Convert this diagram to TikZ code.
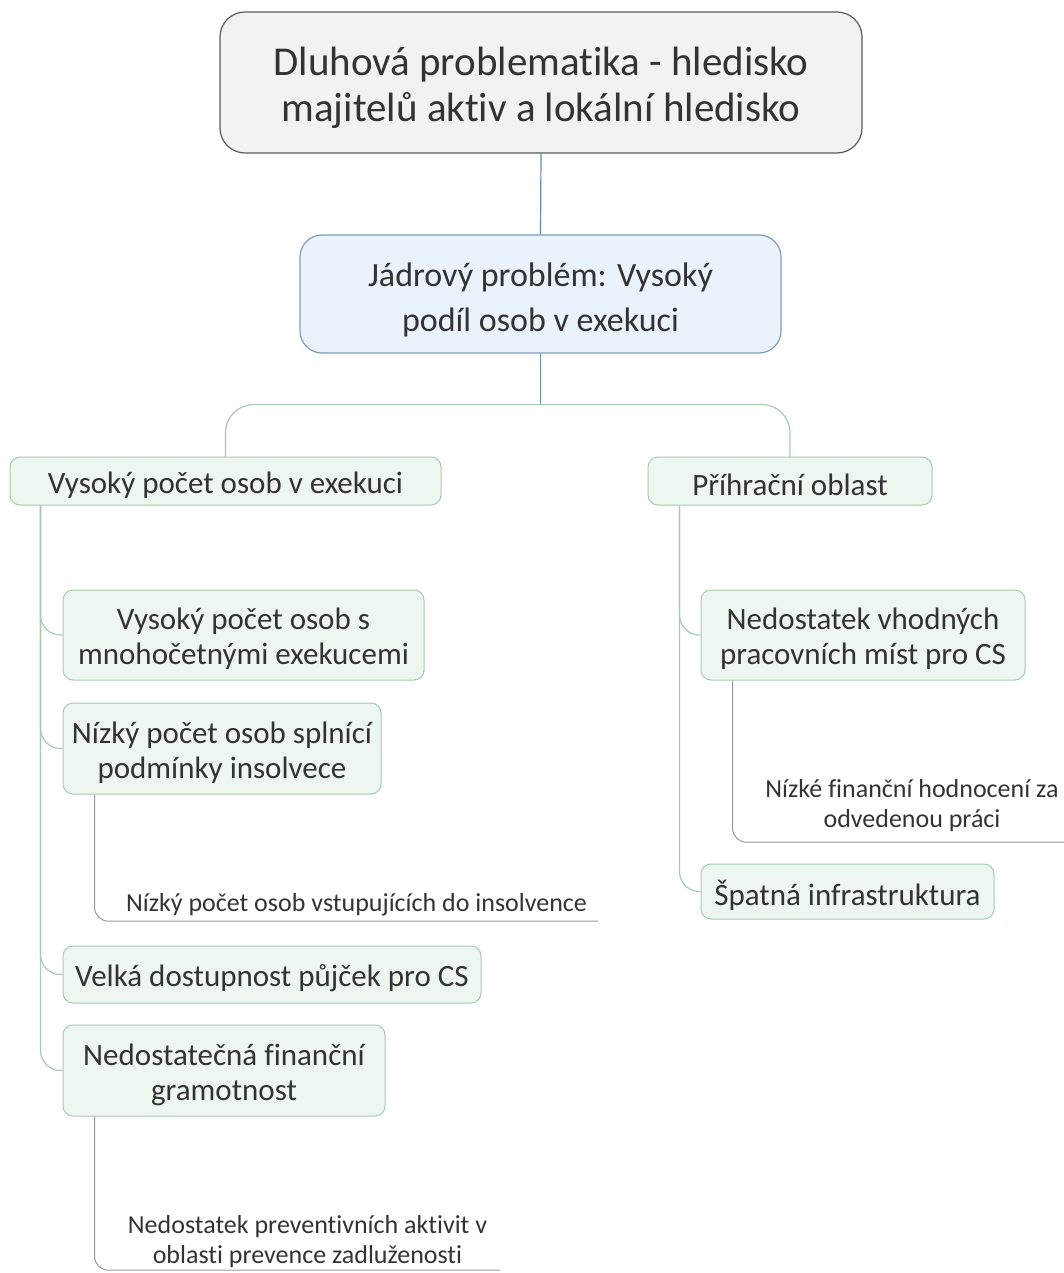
\documentclass[tikz,border=0pt]{standalone}
\usepackage{fontspec}
\setmainfont{Carlito}[Ligatures=CommonOff]
\definecolor{rootfill}{HTML}{F2F2F2}
\definecolor{rootdraw}{HTML}{5A5A5A}
\definecolor{corefill}{HTML}{EAF2FB}
\definecolor{coredraw}{HTML}{7F9CBB}
\definecolor{gfill}{HTML}{EEF6F0}
\definecolor{gdraw}{HTML}{A6CBB1}
\definecolor{bcol}{HTML}{6A89A8}
\definecolor{scol}{HTML}{9A9A9A}
\definecolor{tcol}{HTML}{333333}
\begin{document}
\begin{tikzpicture}[x=1pt,y=-1pt,
  txt/.style={text=tcol, align=center, inner sep=0pt},
  rt/.style={txt, font=\fontsize{41}{46}\selectfont, yshift=-5pt},
  ct/.style={txt, font=\fontsize{34}{45}\selectfont, yshift=-6pt},
  gt/.style={txt, font=\fontsize{31}{35}\selectfont, yshift=-4pt},
  rootbox/.style={draw=rootdraw, fill=rootfill, line width=1.2pt, rounded corners=25pt, inner sep=0pt},
  corebox/.style={draw=coredraw, fill=corefill, line width=1.2pt, rounded corners=22pt, inner sep=0pt},
  gbox/.style={draw=gdraw, fill=gfill, line width=1pt, rounded corners=10pt, inner sep=0pt},
  subtxt/.style={txt, font=\fontsize{26}{30}\selectfont},
  bline/.style={draw=bcol, line width=1.2pt},
  gline/.style={draw=gdraw, line width=1.2pt},
  sline/.style={draw=scol, line width=1pt},
]
\useasboundingbox (0,0) rectangle (1064,1273);

% main boxes
\node[rootbox, minimum width=642pt, minimum height=141pt,
  label={[rt]center:{Dluhová problematika - hledisko\\majitelů aktiv a lokální hledisko}}] (root) at (541,82.5) {};
\node[corebox, minimum width=481pt, minimum height=118pt,
  label={[ct]center:{Jádrový problém: Vysoký\\podíl osob v exekuci}}] (core) at (540.5,294) {};

% level 1
\node[gbox, minimum width=431pt, minimum height=48pt,
  label={[gt]center:{Vysoký počet osob v exekuci}}] (L1) at (225.5,481) {};
\node[gbox, minimum width=284pt, minimum height=48pt,
  label={[gt]center:{Příhrační oblast}}] (R1) at (790,481) {};

% left children
\node[gbox, minimum width=361pt, minimum height=90pt,
  label={[gt]center:{Vysoký počet osob s\\mnohočetnými exekucemi}}] (c1) at (243.5,635) {};
\node[gbox, minimum width=318pt, minimum height=91pt,
  label={[gt]center:{Nízký počet osob splnící\\podmínky insolvece}}] (c2) at (222,748.5) {};
\node[gbox, minimum width=418pt, minimum height=57pt,
  label={[gt]center:{Velká dostupnost půjček pro CS}}] (c3) at (272,974.5) {};
\node[gbox, minimum width=322pt, minimum height=91pt,
  label={[gt]center:{Nedostatečná finanční\\gramotnost}}] (c4) at (224,1070.5) {};

% right children
\node[gbox, minimum width=324pt, minimum height=90pt,
  label={[gt]center:{Nedostatek vhodných\\pracovních míst pro CS}}] (r1) at (863,635) {};
\node[gbox, minimum width=293pt, minimum height=55pt,
  label={[gt]center:{Špatná infrastruktura}}] (r2) at (847.5,891.5) {};

% sub texts
\node[subtxt, minimum width=483pt, minimum height=32pt] (s1) at (356.5,905) {Nízký počet osob vstupujících do insolvence};
\node[subtxt, minimum width=385pt, minimum height=56pt] (s2) at (307.5,1242) {Nedostatek preventivních aktivit v\\oblasti prevence zadluženosti};
\node[subtxt, minimum width=304pt, minimum height=72pt] (s3) at (912,806) {Nízké finanční hodnocení za\\odvedenou práci};

% connectors
\draw[bline] (root.south) -- (core.north);
\draw[bline] (core.south) -- ++(0,51) coordinate (bj);
\draw[gline, rounded corners=28pt] (L1.north) -- (L1.north |- bj) -- (R1.north |- bj) -- (R1.north);

\coordinate (lv) at ([xshift=31pt]L1.south west);
\coordinate (rv) at ([xshift=32pt]R1.south west);
\foreach \c in {c1,c2,c3,c4}{
  \draw[gline, rounded corners=20pt] (lv) -- (lv |- \c.west) -- (\c.west);
}
\foreach \c in {r1,r2}{
  \draw[gline, rounded corners=20pt] (rv) -- (rv |- \c.west) -- (\c.west);
}

\coordinate (c2v) at ([xshift=32pt]c2.south west);
\coordinate (c4v) at ([xshift=32pt]c4.south west);
\coordinate (r1v) at ([xshift=32pt]r1.south west);
\draw[sline, rounded corners=14pt] (c2v) -- (c2v |- s1.south) -- (s1.south east);
\draw[sline, rounded corners=14pt] (c4v) -- (c4v |- s2.south) -- (s2.south east);
\draw[sline, rounded corners=14pt] (r1v) -- (r1v |- s3.south) -- (s3.south east);
\end{tikzpicture}
\end{document}
